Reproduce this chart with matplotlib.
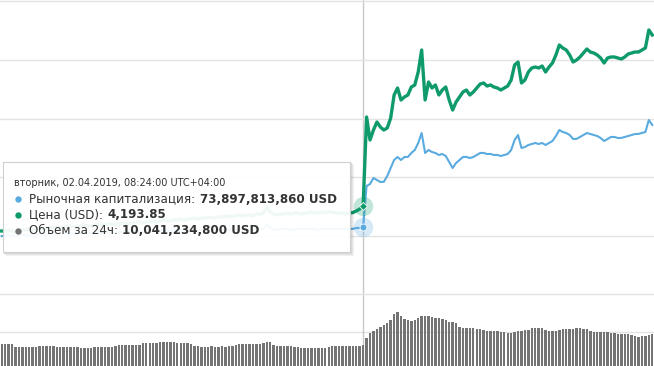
import datetime as dt
import pandas as pd
import matplotlib
matplotlib.use("Agg")
import matplotlib.pyplot as plt
from matplotlib.patches import Rectangle
from matplotlib.lines import Line2D

# ------------------------------------------------------------
# DATA (5-minute points, tooltip point at index 105 = 08:24)
# ------------------------------------------------------------
times = pd.date_range("2019-04-01 23:39", periods=190, freq="5min").to_pydatetime()
hover_idx = 105

# Price, USD
price = [
    4069, 4069, 4074, 4069, 4064, 4069, 4074, 4074, 4079, 4074,
    4079, 4084, 4079, 4079, 4084, 4089, 4084, 4084, 4089, 4094,
    4094, 4089, 4089, 4094, 4099, 4094, 4094, 4099, 4104, 4099,
    4099, 4104, 4104, 4099, 4104, 4109, 4109, 4104, 4109, 4114,
    4114, 4109, 4114, 4114, 4119, 4114, 4119, 4124, 4119, 4119,
    4124, 4124, 4129, 4124, 4129, 4129, 4134, 4129, 4134, 4134,
    4139, 4134, 4134, 4139, 4139, 4144, 4139, 4144, 4144, 4149,
    4144, 4149, 4149, 4144, 4154, 4154, 4159, 4189, 4164, 4154,
    4149, 4154, 4154, 4159, 4154, 4159, 4159, 4154, 4159, 4159,
    4164, 4159, 4159, 4164, 4159, 4164, 4164, 4159, 4159, 4159,
    4154, 4159, 4161, 4169, 4179, 4193.85,
    4639, 4524, 4574, 4614, 4589, 4574, 4584, 4634, 4749, 4784,
    4724, 4739, 4749, 4789, 4799, 4864, 4974, 4724, 4814, 4784,
    4799, 4749, 4774, 4789, 4724, 4674, 4714, 4739, 4764, 4774,
    4749, 4764, 4784, 4804, 4809, 4794, 4799, 4789, 4784, 4774,
    4784, 4794, 4824, 4899, 4914, 4809, 4824, 4864, 4884, 4889,
    4884, 4894, 4864, 4889, 4909, 4949, 4999, 4984, 4974, 4949,
    4914, 4924, 4939, 4959, 4979, 4964, 4959, 4949, 4934, 4909,
    4934, 4939, 4939, 4934, 4929, 4939, 4954, 4959, 4964, 4964,
    4974, 4984, 5074, 5049,
]

# Market cap, billion USD
market_cap = [
    72.64, 72.65, 72.78, 72.63, 72.64, 72.77, 72.79, 72.78, 72.65, 72.78,
    72.79, 72.92, 72.78, 72.80, 72.92, 72.91, 72.93, 72.92, 73.05, 73.06,
    73.07, 72.93, 73.06, 73.05, 73.07, 73.06, 73.08, 73.20, 73.19, 73.06,
    73.20, 73.21, 73.19, 73.07, 73.20, 73.22, 73.34, 73.21, 73.20, 73.33,
    73.34, 73.21, 73.35, 73.34, 73.33, 73.35, 73.34, 73.48, 73.35, 73.34,
    73.36, 73.48, 73.35, 73.47, 73.48, 73.36, 73.49, 73.48, 73.47, 73.49,
    73.48, 73.50, 73.47, 73.48, 73.61, 73.49, 73.48, 73.62, 73.49, 73.61,
    73.48, 73.62, 73.63, 73.49, 73.62, 73.61, 73.63, 74.18, 73.76, 73.62,
    73.49, 73.61, 73.62, 73.63, 73.48, 73.62, 73.61, 73.63, 73.62, 73.61,
    73.62, 73.63, 73.49, 73.62, 73.61, 73.63, 73.62, 73.62, 73.61, 73.63,
    73.62, 73.63, 73.64, 73.76, 73.78, 73.898,
    79.64, 79.92, 80.76, 80.48, 80.20, 80.22, 81.04, 82.16, 83.28, 83.70,
    83.28, 83.70, 83.71, 84.26, 84.68, 85.66, 87.06, 84.26, 84.68, 84.40,
    84.26, 83.98, 84.12, 83.84, 83.00, 82.16, 82.86, 83.28, 83.70, 83.71,
    83.56, 83.70, 83.98, 84.26, 84.27, 84.12, 84.13, 83.98, 83.99, 83.84,
    83.98, 84.12, 84.68, 86.08, 86.78, 84.96, 85.10, 85.38, 85.52, 85.66,
    85.52, 85.66, 85.38, 85.66, 85.94, 86.64, 87.48, 87.20, 87.06, 86.78,
    86.22, 86.23, 86.50, 86.78, 87.06, 86.92, 86.78, 86.64, 86.36, 85.94,
    86.22, 86.50, 86.51, 86.36, 86.37, 86.50, 86.64, 86.78, 86.92, 86.93,
    87.06, 87.20, 88.88, 88.18,
]

# 24h volume, billion USD
volume_24h = [
    10.19, 10.21, 10.19, 10.16,
    9.74, 9.72, 9.75, 9.74, 9.71, 9.74, 9.77,
    9.89, 9.91, 9.88, 9.89, 9.86,
    9.74, 9.76, 9.73, 9.74, 9.71, 9.74, 9.72,
    9.59, 9.61, 9.58, 9.60,
    9.74, 9.76, 9.73, 9.75, 9.77, 9.80, 9.86,
    10.01, 10.04, 10.06, 10.04, 10.02, 10.05, 10.10,
    10.31, 10.34, 10.36, 10.33, 10.40,
    10.49, 10.51, 10.49, 10.47, 10.46, 10.40,
    10.34, 10.36, 10.32, 10.20,
    9.89, 9.83, 9.80, 9.82, 9.81, 9.83, 9.80, 9.82, 9.84, 9.81, 9.86, 9.95, 10.05,
    10.19, 10.17, 10.20, 10.19, 10.21, 10.19, 10.22, 10.30,
    10.49, 10.47,
    10.10, 9.89, 9.87, 9.90, 9.88, 9.86, 9.80, 9.72,
    9.59, 9.57, 9.60, 9.58, 9.59, 9.61, 9.60, 9.62, 9.70,
    9.94, 9.95, 9.93, 9.94, 9.96, 9.94, 9.95, 9.93, 9.94,
    10.04,
    11.09, 11.84, 12.14, 12.44, 12.74, 13.04, 13.34, 13.79, 14.69, 14.99,
    14.39, 13.94, 13.79, 13.64, 13.79, 14.09, 14.39, 14.39, 14.39, 14.24,
    14.09, 14.09, 13.94, 13.79, 13.49, 13.49, 13.34, 12.74, 12.59, 12.59,
    12.59, 12.59, 12.44, 12.44, 12.29, 12.14, 12.14, 12.14, 12.14, 11.99,
    11.99, 11.84, 11.84, 11.99, 12.14, 12.14, 12.29, 12.29, 12.59, 12.59,
    12.59, 12.59, 12.29, 12.14, 12.14, 12.14, 12.29, 12.44, 12.44, 12.44,
    12.44, 12.59, 12.59, 12.44, 12.44, 12.14, 11.99, 11.99, 11.99, 11.99,
    11.99, 11.84, 11.84, 11.69, 11.69, 11.69, 11.69, 11.54, 11.39, 11.24,
    11.39, 11.39, 11.54, 11.69,
]

header = "вторник, 02.04.2019, 08:24:00 UTC+04:00"
tooltip_rows = [
    ("Рыночная капитализация:", "73,897,813,860 USD"),
    ("Цена (USD):", "4,193.85"),
    ("Объем за 24ч:", "10,041,234,800 USD"),
]

BLUE = "#5aabe0"
GREEN = "#0f9a6b"
GREY = "#747474"
GRID = "#e3e3e3"

# ------------------------------------------------------------
# FIGURE
# ------------------------------------------------------------
W, H = 654, 366
fig = plt.figure(figsize=(W / 100, H / 100), dpi=100)
fx = lambda px: px / W
fy = lambda py: 1 - py / H

step = dt.timedelta(minutes=5)

# volume panel (bottom layer)
ax_vol = fig.add_axes([0, 0, 1, 1])
ax_vol.bar(times, volume_24h, width=dt.timedelta(minutes=3.5), color=GREY, zorder=3)
ax_vol.set_ylim(6.9, 61.8)
ax_vol.set_yticks([12])
ax_vol.grid(axis="y", color=GRID, lw=1)
ax_vol.set_axisbelow(True)
ax_vol.axvline(times[hover_idx], color="#c8c8c8", lw=1, zorder=2)

# market cap + price
ax_cap = fig.add_axes([0, 0, 1, 1], sharex=ax_vol)
ax_cap.patch.set_alpha(0)
ax_cap.plot(times, market_cap, color=BLUE, lw=1.5)
lo, hi = 54.44, 105.68
ax_cap.set_ylim(lo, hi)
grid_px = [1, 60, 119, 177, 236, 294]
ax_cap.set_yticks([hi - (hi - lo) * p / H for p in grid_px])
ax_cap.grid(axis="y", color=GRID, lw=1)

ax_price = ax_cap.twinx()
ax_price.plot(times, price, color=GREEN, lw=2.4, solid_joinstyle="round")
ax_price.set_ylim(3394, 5224)

# hover markers
ax_cap.plot(times[hover_idx], market_cap[hover_idx], "o", ms=14, color=BLUE, alpha=0.25, mec="none")
ax_cap.plot(times[hover_idx], market_cap[hover_idx], "o", ms=5, color=BLUE, mec="white", mew=0.6)
ax_price.plot(times[hover_idx], price[hover_idx], "o", ms=14, color=GREEN, alpha=0.25, mec="none")
ax_price.plot(times[hover_idx], price[hover_idx], "D", ms=4.2, color=GREEN, mec="white", mew=0.6)

ax_vol.set_xlim(times[0] - step / 2, times[-1] + step / 2)
for a in (ax_vol, ax_cap, ax_price):
    a.tick_params(length=0, labelleft=False, labelright=False, labelbottom=False)
    for s in a.spines.values():
        s.set_visible(False)

# ------------------------------------------------------------
# TOOLTIP
# ------------------------------------------------------------
bx, by, bw, bh = 3, 162, 347, 90
# soft shadow on the right and bottom edges
for k, a in ((1, 0.15), (2, 0.09), (3, 0.05)):
    fig.add_artist(Line2D([fx(bx + k), fx(bx + bw + k), fx(bx + bw + k)],
                          [fy(by + bh + k), fy(by + bh + k), fy(by + k)],
                          color="black", alpha=a, lw=0.8,
                          transform=fig.transFigure, zorder=4))
fig.add_artist(Rectangle((fx(bx), fy(by + bh)), bw / W, bh / H,
                         transform=fig.transFigure, facecolor="white",
                         alpha=0.94, edgecolor="none", zorder=5))
fig.add_artist(Rectangle((fx(bx), fy(by + bh)), bw / W, bh / H,
                         transform=fig.transFigure, facecolor="none",
                         edgecolor="#d0d0d0", lw=0.8, zorder=5))

fig.text(fx(14), fy(183), header, fontsize=7.0, color="#333333",
         va="center", ha="left", zorder=6)

renderer = fig.canvas.get_renderer()
row_y = [199, 214.5, 231]
for (name, value), y, c in zip(tooltip_rows, row_y, [BLUE, GREEN, GREY]):
    fig.add_artist(Line2D([fx(18)], [fy(y)], marker="o", ms=4.6, color=c,
                          mec="none", transform=fig.transFigure, zorder=6))
    t = fig.text(fx(29), fy(y), name, fontsize=8.6, color="#333333",
                 va="center", ha="left", zorder=6)
    bb = t.get_window_extent(renderer=renderer)
    fig.text(fx(bb.x1 + 4.5), fy(y), value, fontsize=8.6, color="#333333",
             fontweight="bold", va="center", ha="left", zorder=6)

fig.savefig("out.png", dpi=100)
